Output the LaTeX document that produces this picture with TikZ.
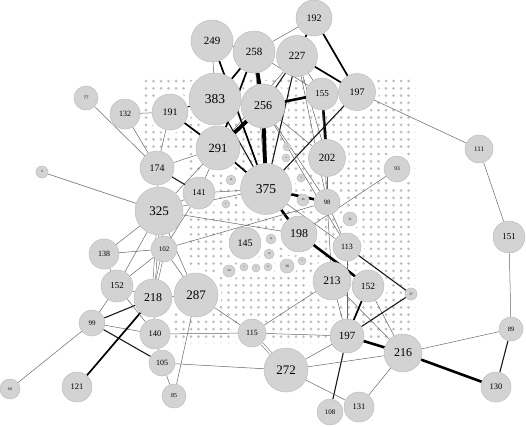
\documentclass[tikz,border=0pt]{standalone}
\usepackage{fontspec}
\setmainfont{Liberation Serif}
\definecolor{nodefill}{HTML}{D3D3D3}
\definecolor{nodeline}{HTML}{BDBDBD}
\definecolor{dotcol}{HTML}{BEBEBE}
\pgfdeclarelayer{dots}
\pgfdeclarelayer{edges}
\pgfsetlayers{dots,edges,main}
\tikzset{
  nd/.style 2 args={circle, fill=nodefill, draw=nodeline, line width=0.5pt,
    minimum size={2*#1pt}, inner sep=0pt, font=\fontsize{#2}{#2}\selectfont},
  e0/.style={draw=black!60, line width=0.5pt},
  e1/.style={draw=black!90, line width=1.1pt},
  e2/.style={draw=black, line width=1.7pt},
  e3/.style={draw=black, line width=2.6pt},
  e4/.style={draw=black, line width=3.8pt},
  dd/.style={e0, double=white, double distance=2pt},
  griddot/.style={fill=dotcol},
  halo/.style={fill=white}
}
\newcommand\Nd[6]{\node[nd={#4}{#5}] (#1) at (#2,#3) {#6};
  \begin{pgfonlayer}{dots}\fill[halo] (#2,#3) circle ({#4+3.5});\end{pgfonlayer}}
\begin{document}
\begin{tikzpicture}[x=1pt,y=-1pt]
\useasboundingbox (0,0) rectangle (526,426);
% dot field
\begin{pgfonlayer}{dots}
\begin{scope}
\clip (144,77) -- (415,77) -- (415,343) -- (170,343) -- (170,310) -- (186,310) -- (186,150) -- (144,150) -- cycle;
\foreach \j in {0,...,36} {
  \foreach \i in {0,...,36} {
    \fill[griddot] ({146+7.5*\i},{81+7.3*\j}) circle (1.5);
  }
}
\end{scope}
\end{pgfonlayer}
% nodes
\Nd{n192}{314}{18}{18}{10}{192}
\Nd{n249}{212}{41}{21}{11}{249}
\Nd{n258}{254}{52}{21}{11}{258}
\Nd{n227}{297}{56}{20.5}{11}{227}
\Nd{n383}{215}{99}{26}{13.5}{383}
\Nd{n256}{263}{106}{22}{12}{256}
\Nd{n155}{322}{94}{16}{9}{155}
\Nd{n197a}{357}{92}{18.5}{10}{197}
\Nd{n191}{170}{112}{18}{10}{191}
\Nd{n291}{218}{148}{22}{12.5}{291}
\Nd{n375}{266}{189}{25.5}{13.5}{375}
\Nd{n202}{327}{158}{18.5}{11}{202}
\Nd{n93}{397}{169}{13}{5.5}{93}
\Nd{n98}{327}{202}{13}{6.5}{98}
\Nd{n198}{299}{234}{18}{12}{198}
\Nd{n145}{245}{243}{16}{10}{145}
\Nd{n113}{347}{247}{14}{8}{113}
\Nd{n213}{332}{281}{19}{11.5}{213}
\Nd{n152a}{368}{286}{16}{9.5}{152}
\Nd{n27}{411}{294}{6}{3.5}{27}
\Nd{n287}{196}{295}{22}{13}{287}
\Nd{n141}{199}{193}{16}{9}{141}
\Nd{n174}{157}{168}{17}{10}{174}
\Nd{n325}{159}{211}{24}{13}{325}
\Nd{n132}{125}{114}{15}{8}{132}
\Nd{n77}{86}{98}{12}{5}{77}
\Nd{n8}{42}{172}{6}{3}{8}
\Nd{n138}{104}{254}{15}{8}{138}
\Nd{n102}{164}{249}{13}{7}{102}
\Nd{n152b}{117}{286}{16}{9}{152}
\Nd{n218}{153}{298}{19}{12}{218}
\Nd{n99}{92}{323}{13}{7}{99}
\Nd{n140}{155}{334}{15}{8.5}{140}
\Nd{n105}{162}{363}{13}{8}{105}
\Nd{n121}{77}{387}{15}{8.5}{121}
\Nd{n60}{10}{389}{10}{4}{60}
\Nd{n85}{174}{396}{12}{6}{85}
\Nd{n115}{252}{333}{14}{8}{115}
\Nd{n197b}{347}{336}{17}{11}{197}
\Nd{n216}{403}{353}{19}{12}{216}
\Nd{n272}{286}{370}{22}{13}{272}
\Nd{n89}{511}{329}{12}{6.5}{89}
\Nd{n130}{496}{387}{15}{8.5}{130}
\Nd{n108}{330}{412}{13}{7}{108}
\Nd{n131}{359}{407}{15}{8.5}{131}
\Nd{n111}{479}{149}{14}{7}{111}
\Nd{n151}{509}{237}{16}{9}{151}
% tiny nodes in the field
\Nd{t1}{231}{180}{5}{2.5}{10}
\Nd{t2}{226}{204}{4}{2}{6}
\Nd{t3}{271}{239}{5}{2.5}{24}
\Nd{t4}{269}{254}{5}{2.5}{10}
\Nd{t5}{229}{271}{6}{3}{29}
\Nd{t6}{244}{267}{4}{2}{8}
\Nd{t7}{256}{268}{4}{2}{7}
\Nd{t8}{268}{267}{4}{2}{18}
\Nd{t9}{287}{266}{7}{3.5}{30}
\Nd{t10}{302}{261}{4}{2}{9}
\Nd{t11}{303}{200}{6}{3}{26}
\Nd{t12}{286}{158}{4}{2}{4}
\Nd{t13}{287}{147}{4}{2}{5}
\Nd{t14}{301}{178}{4}{2}{3}
\Nd{t15}{350}{219}{7}{3.5}{31}
% edges
\begin{pgfonlayer}{edges}
\draw[e2] (n192) -- (n227);
\draw[e0] (n192) -- (n258);
\draw[e2] (n192) -- (n197a);
\draw[e2] (n227) -- (n197a);
\draw[e0] (n249) -- (n383);
\draw[e1] (n249) -- (n258);
\draw[e2] (n249) -- (n375);
\draw[e2] (n258) -- (n383);
\draw[e4] (n258) -- (n256);
\draw[e2] (n258) -- (n291);
\draw[e0] (n258) -- (n375);
\draw[e0] (n258) -- (n155);
\draw[e1] (n227) -- (n256);
\draw[e1] (n227) -- (n375);
\draw[e0] (n227) -- (n291);
\draw[e0] (n227) -- (n155);
\draw[e0] (n227) -- (n202);
\draw[e0] (n227) -- (n98);
\draw[e3] (n256) -- (n155);
\draw[e3] (n155) -- (n202);
\draw[e0] (n155) -- (n197a);
\draw[e0] (n155) -- (n98);
\draw[e1] (n197a) -- (n375);
\draw[e0] (n197a) -- (n111);
\draw[e0] (n111) -- (n151);
\draw[e0] (n151) -- (n89);
\draw[e1] (n383) -- (n191);
\draw[e2] (n191) -- (n291);
\draw[e0] (n191) -- (n132);
\draw[e0] (n191) -- (n174);
\draw[e1] (n383) -- (n375);
\draw[e0] (n383) -- (n256);
\draw[e4] (n291) -- (n256);
\draw[e2] (n291) -- (n375);
\draw[e0] (n291) -- (n174);
\draw[e0] (n291) -- (n141);
\draw[e0] (n256) -- (n202);
\draw[e0] (n256) -- (n98);
\draw[e0] (n256) -- (n113);
\draw[e4] (n256) -- (n375);
\draw[e3] (n375) -- (n98);
\draw[e3] (n375) -- (n198);
\draw[e0] (n375) -- (n141);
\draw[e0] (n375) -- (n325);
\draw[e0] (n375) -- (n113);
\draw[e0] (n202) -- (n98);
\draw[e0] (n98) -- (n213);
\draw[e0] (n98) -- (n113);
\draw[e0] (n93) -- (n198);
\draw[e3] (n198) -- (n152a);
\draw[e1] (n113) -- (n27);
\draw[e0] (n113) -- (n197b);
\draw[e0] (n213) -- (n197b);
\draw[e0] (n213) -- (n115);
\draw[e0] (n213) -- (n216);
\draw[e2] (n152a) -- (n197b);
\draw[e0] (n152a) -- (n216);
\draw[e1] (n27) -- (n197b);
\draw[e3] (n197b) -- (n216);
\draw[e1] (n197b) -- (n108);
\draw[e0] (n197b) -- (n272);
\draw[e0] (n197b) -- (n115);
\draw[e3] (n216) -- (n130);
\draw[e1] (n89) -- (n130);
\draw[e0] (n216) -- (n89);
\draw[e0] (n216) -- (n272);
\draw[e0] (n216) -- (n131);
\draw[e0] (n272) -- (n131);
\draw[dd] (n272) -- (n115);
\draw[e0] (n272) -- (n105);
\draw[e0] (n115) -- (n287);
\draw[e0] (n115) -- (n140);
\draw[e0] (n287) -- (n85);
\draw[e0] (n287) -- (n218);
\draw[e0] (n287) -- (n102);
\draw[e0] (n287) -- (n325);
\draw[e0] (n105) -- (n140);
\draw[e0] (n105) -- (n85);
\draw[e1] (n105) -- (n99);
\draw[e1] (n99) -- (n218);
\draw[e0] (n99) -- (n140);
\draw[e0] (n99) -- (n60);
\draw[e0] (n99) -- (n152b);
\draw[e2] (n121) -- (n218);
\draw[e0] (n140) -- (n218);
\draw[e0] (n140) -- (n152b);
\draw[dd] (n218) -- (n102);
\draw[dd] (n218) -- (n325);
\draw[e0] (n152b) -- (n325);
\draw[e0] (n152b) -- (n138);
\draw[e0] (n152b) -- (n218);
\draw[e0] (n152b) -- (n102);
\draw[e0] (n138) -- (n102);
\draw[e0] (n138) -- (n325);
\draw[e0] (n325) -- (n102);
\draw[e0] (n325) -- (n141);
\draw[e0] (n325) -- (n174);
\draw[e0] (n325) -- (n8);
\draw[e0] (n325) -- (n198);
\draw[e0] (n325) -- (n291);
\draw[e1] (n174) -- (n141);
\draw[e0] (n174) -- (n77);
\draw[e0] (n174) -- (n132);
\draw[e0] (n102) -- (n141);
\draw[e0] (n102) -- (n98);
\end{pgfonlayer}
\end{tikzpicture}
\end{document}
